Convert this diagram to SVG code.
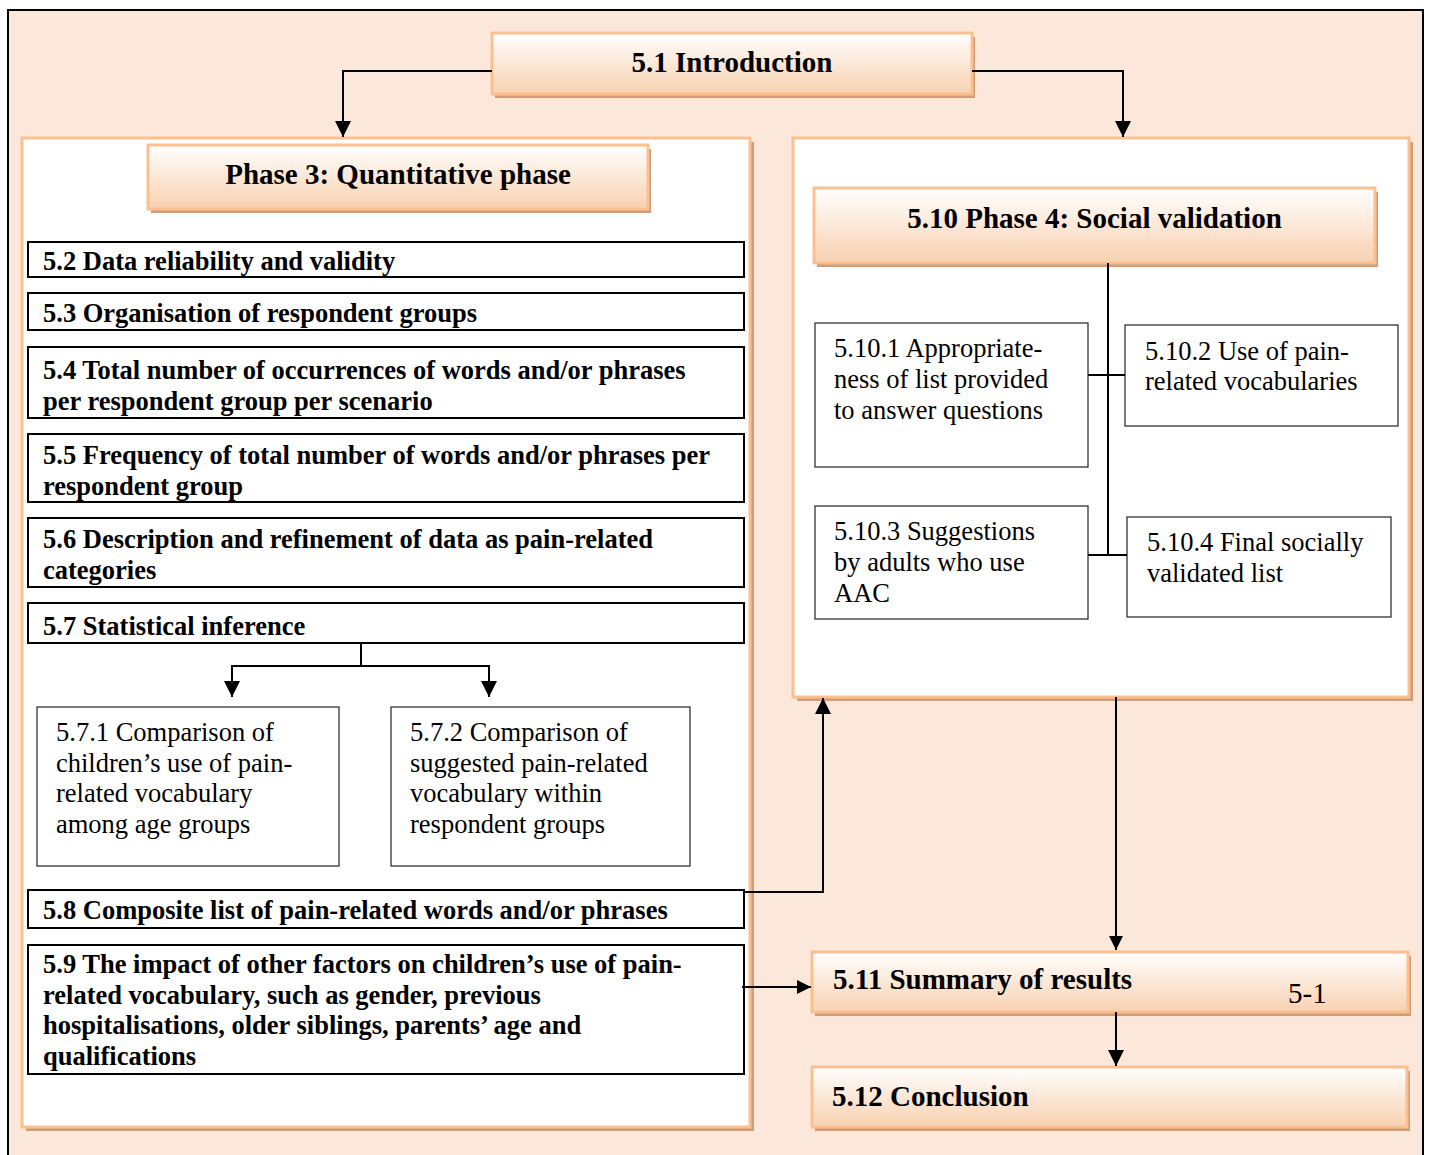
<svg xmlns="http://www.w3.org/2000/svg" width="1431" height="1155" viewBox="0 0 1431 1155">
  <defs>
    <linearGradient id="hdrFill" x1="0" y1="0" x2="0" y2="1">
      <stop offset="0" stop-color="#FFFFFF"/>
      <stop offset="0.75" stop-color="#FADCC3"/>
      <stop offset="1" stop-color="#F8D2B2"/>
    </linearGradient>
    <marker id="arrowL" markerUnits="userSpaceOnUse" markerWidth="16" markerHeight="16" refX="16" refY="8" orient="auto" viewBox="0 0 16 16">
      <path d="M0,0 L16,8 L0,16 z" fill="#000"/>
    </marker>
    <marker id="arrowS" markerUnits="userSpaceOnUse" markerWidth="14" markerHeight="14" refX="14" refY="7" orient="auto" viewBox="0 0 14 14">
      <path d="M0,0 L14,7 L0,14 z" fill="#000"/>
    </marker>
  </defs>
  <style>
    .frame { fill: #FBE8DA; stroke: #000; stroke-width: 2; }
    .panel { fill: #FFFFFF; stroke: #FAC090; stroke-width: 3; }
    .shadow { fill: #D29C76; }
    .hdr { fill: url(#hdrFill); stroke: #FAC090; stroke-width: 3; }
    .item { fill: #FFFFFF; stroke: #000; stroke-width: 2; }
    .sub { fill: #FFFFFF; stroke: #222; stroke-width: 1.2; }
    .conn { fill: none; stroke: #000; stroke-width: 2; }
    text { font-family: "Liberation Serif", "Times New Roman", serif; fill: #000; }
    .h { font-size: 29px; font-weight: bold; }
    .b { font-size: 26.5px; font-weight: bold; }
    .r { font-size: 26.5px; }
    .pg { font-size: 29px; }
  </style>

  <!-- page frame -->
  <rect class="frame" x="8" y="10" width="1415" height="1160"/>

  <!-- left panel: quantitative phase -->
  <g id="panel-phase3">
    <rect class="shadow" x="26" y="142" width="728" height="989"/>
    <rect class="panel" x="22" y="138" width="728" height="989"/>
  </g>

  <!-- right panel: social validation -->
  <g id="panel-phase4">
    <rect class="shadow" x="797" y="142" width="616" height="559"/>
    <rect class="panel" x="793" y="138" width="616" height="559"/>
  </g>

  <g id="n-5-1">
    <rect class="shadow" x="495" y="37" width="480" height="61"/>
    <rect class="hdr" x="492" y="33" width="480" height="61"/>
    <text class="h" x="732" y="72" text-anchor="middle">5.1 Introduction</text>
  </g>

  <g id="n-phase3">
    <rect class="shadow" x="151" y="149" width="500" height="64"/>
    <rect class="hdr" x="148" y="145" width="500" height="64"/>
    <text class="h" x="398" y="184" text-anchor="middle">Phase 3: Quantitative phase</text>
  </g>

  <g id="n-5-2">
    <rect class="item" x="28" y="242" width="716" height="35"/>
    <text class="b" x="43" y="270">5.2 Data reliability and validity</text>
  </g>

  <g id="n-5-3">
    <rect class="item" x="28" y="293" width="716" height="37"/>
    <text class="b" x="43" y="322">5.3 Organisation of respondent groups</text>
  </g>

  <g id="n-5-4">
    <rect class="item" x="28" y="347" width="716" height="71"/>
    <text class="b" x="43" y="379">5.4 Total number of occurrences of words and/or phrases</text>
    <text class="b" x="43" y="410">per respondent group per scenario</text>
  </g>

  <g id="n-5-5">
    <rect class="item" x="28" y="434" width="716" height="68"/>
    <text class="b" x="43" y="464">5.5 Frequency of total number of words and/or phrases per</text>
    <text class="b" x="43" y="495">respondent group</text>
  </g>

  <g id="n-5-6">
    <rect class="item" x="28" y="518" width="716" height="69"/>
    <text class="b" x="43" y="548">5.6 Description and refinement of data as pain-related</text>
    <text class="b" x="43" y="579">categories</text>
  </g>

  <g id="n-5-7">
    <rect class="item" x="28" y="603" width="716" height="40"/>
    <text class="b" x="43" y="635">5.7 Statistical inference</text>
  </g>

  <g id="n-5-7-1">
    <rect class="sub" x="37" y="707" width="302" height="159"/>
    <text class="r" x="56" y="741">5.7.1 Comparison of</text>
    <text class="r" x="56" y="772">children’s use of pain-</text>
    <text class="r" x="56" y="802">related vocabulary</text>
    <text class="r" x="56" y="833">among age groups</text>
  </g>

  <g id="n-5-7-2">
    <rect class="sub" x="391" y="707" width="299" height="159"/>
    <text class="r" x="410" y="741">5.7.2 Comparison of</text>
    <text class="r" x="410" y="772">suggested pain-related</text>
    <text class="r" x="410" y="802">vocabulary within</text>
    <text class="r" x="410" y="833">respondent groups</text>
  </g>

  <g id="n-5-8">
    <rect class="item" x="28" y="890" width="716" height="38"/>
    <text class="b" x="43" y="919">5.8 Composite list of pain-related words and/or phrases</text>
  </g>

  <g id="n-5-9">
    <rect class="item" x="28" y="945" width="716" height="129"/>
    <text class="b" x="43" y="973">5.9 The impact of other factors on children’s use of pain-</text>
    <text class="b" x="43" y="1004">related vocabulary, such as gender, previous</text>
    <text class="b" x="43" y="1034">hospitalisations, older siblings, parents’ age and</text>
    <text class="b" x="43" y="1065">qualifications</text>
  </g>

  <g id="n-5-10">
    <rect class="shadow" x="817" y="192" width="561" height="75"/>
    <rect class="hdr" x="814" y="188" width="561" height="75"/>
    <text class="h" x="1094.5" y="228" text-anchor="middle">5.10 Phase 4: Social validation</text>
  </g>

  <g id="n-5-10-1">
    <rect class="sub" x="815" y="323" width="273" height="144"/>
    <text class="r" x="834" y="357">5.10.1 Appropriate-</text>
    <text class="r" x="834" y="388">ness of list provided</text>
    <text class="r" x="834" y="419">to answer questions</text>
  </g>

  <g id="n-5-10-2">
    <rect class="sub" x="1125" y="325" width="273" height="101"/>
    <text class="r" x="1145" y="360">5.10.2 Use of pain-</text>
    <text class="r" x="1145" y="390">related vocabularies</text>
  </g>

  <g id="n-5-10-3">
    <rect class="sub" x="815" y="506" width="273" height="113"/>
    <text class="r" x="834" y="540">5.10.3 Suggestions</text>
    <text class="r" x="834" y="571">by adults who use</text>
    <text class="r" x="834" y="602">AAC</text>
  </g>

  <g id="n-5-10-4">
    <rect class="sub" x="1127" y="517" width="264" height="100"/>
    <text class="r" x="1147" y="551">5.10.4 Final socially</text>
    <text class="r" x="1147" y="582">validated list</text>
  </g>

  <g id="n-5-11">
    <rect class="shadow" x="815" y="956" width="596" height="60"/>
    <rect class="hdr" x="812" y="952" width="596" height="60"/>
    <text class="h" x="833" y="989">5.11 Summary of results</text>
    <text class="pg" x="1288" y="1003">5-1</text>
  </g>

  <g id="n-5-12">
    <rect class="shadow" x="815" y="1071" width="595" height="60"/>
    <rect class="hdr" x="812" y="1067" width="595" height="60"/>
    <text class="h" x="832" y="1106">5.12 Conclusion</text>
  </g>

  <!-- connectors -->
  <g id="connectors">
    <path class="conn" d="M492,71 H343 V137" marker-end="url(#arrowL)"/>
    <path class="conn" d="M972,71 H1123 V137" marker-end="url(#arrowL)"/>
    <path class="conn" d="M361,643 V666 H232 V697" marker-end="url(#arrowL)"/>
    <path class="conn" d="M361,666 H489 V697" marker-end="url(#arrowL)"/>
    <path class="conn" d="M1108,263 V555"/>
    <path class="conn" d="M1088,375 H1125"/>
    <path class="conn" d="M1088,555 H1127"/>
    <path class="conn" d="M744,892 H823 V698" marker-end="url(#arrowL)"/>
    <path class="conn" d="M1116,697 V950" marker-end="url(#arrowS)"/>
    <path class="conn" d="M742,987 H811" marker-end="url(#arrowS)"/>
    <path class="conn" d="M1116,1012 V1066" marker-end="url(#arrowL)"/>
  </g>
</svg>
